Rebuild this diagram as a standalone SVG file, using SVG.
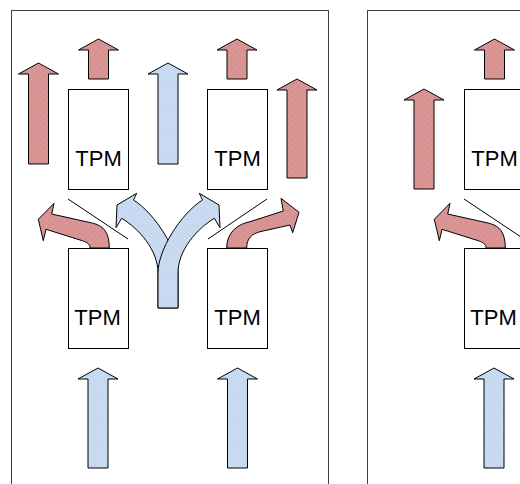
<svg xmlns="http://www.w3.org/2000/svg" width="520" height="484" viewBox="0 0 520 484">
<defs>
<pattern id="pr" width="6" height="6" patternUnits="userSpaceOnUse"><rect width="6" height="6" fill="#d99292"/><circle cx="1.5" cy="1.5" r="0.6" fill="#e2a8a8"/><circle cx="4.5" cy="4.5" r="0.6" fill="#e2a8a8"/></pattern>
<pattern id="pb" width="6" height="6" patternUnits="userSpaceOnUse"><rect width="6" height="6" fill="#c6d9f0"/><circle cx="1.5" cy="1.5" r="0.6" fill="#d6e4f5"/><circle cx="4.5" cy="4.5" r="0.6" fill="#d6e4f5"/></pattern>
</defs>
<style>
.frame{fill:#fff;stroke:#404040;stroke-width:1}
.box{fill:#fff;stroke:#000;stroke-width:1}
.lbl{font-family:"Liberation Sans",Arial,sans-serif;font-size:22px;fill:#000;text-anchor:middle}
.red{fill:url(#pr);stroke:#000;stroke-width:1;stroke-linejoin:miter}
.blue{fill:url(#pb);stroke:#000;stroke-width:1;stroke-linejoin:miter}
.ln{stroke:#000;stroke-width:1;fill:none}
</style>
<rect width="520" height="484" fill="#fff"/>
<g id="panel-left"><rect class="frame" x="11.5" y="10.5" width="317" height="490"/></g>
<g id="panel-right"><rect class="frame" x="367.5" y="10.5" width="170" height="490"/></g>
<g id="connectors">
<polygon class="red" points="28.5,164 28.5,74 18.5,74 38.5,63 58.5,74 48.5,74 48.5,164"/>
<polygon class="red" points="88.5,79 88.5,50 78.5,50 98.5,39 118.5,50 108.5,50 108.5,79"/>
<polygon class="blue" points="158,164 158,74 148,74 168,63 188,74 178,74 178,164"/>
<polygon class="red" points="227,79 227,50 217,50 237,39 257,50 247,50 247,79"/>
<polygon class="red" points="287,178 287,90 277,90 297,79 317,90 307,90 307,178"/>
<polygon class="blue" points="88,468 88,379 78,379 98,368 118,379 108,379 108,468"/>
<polygon class="blue" points="227.5,468 227.5,379 217.5,379 237.5,368 257.5,379 247.5,379 247.5,468"/>
<polygon class="red" points="484.5,79 484.5,50 474.5,50 494.5,39 514.5,50 504.5,50 504.5,79"/>
<polygon class="red" points="414,189 414,100 404,100 424,89 444,100 434,100 434,189"/>
<polygon class="blue" points="484,468 484,379 474,379 494,368 514,379 504,379 504,468"/>
<line class="ln" x1="68" y1="199" x2="128" y2="239"/>
<line class="ln" x1="208" y1="239" x2="267" y2="199"/>
<line class="ln" x1="464" y1="199" x2="524" y2="239"/>
<path class="blue" d="M158,308 L158,273 C158,250 138.8,228.6 121.7,218.3 L116,227.7 L117,205 L136.7,193.3 L133.5,200 C155.4,213.9 178,250 178,273 L178,308 Z"/>
<path class="blue" d="M178,308 L178,273 C178,250 197.2,228.6 214.3,218.3 L220,227.7 L219,205 L199.3,193.3 L202.5,200 C180.6,213.9 158,250 158,273 L158,308 Z"/>
</g>
<g id="tpm1"><rect class="box" x="68.5" y="89.5" width="60" height="100"/><text class="lbl" x="98.5" y="166">TPM</text></g>
<g id="tpm2"><rect class="box" x="207.5" y="89.5" width="60" height="100"/><text class="lbl" x="237.5" y="166">TPM</text></g>
<g id="tpm3"><rect class="box" x="68.5" y="248.5" width="60" height="100"/><text class="lbl" x="97.5" y="325">TPM</text></g>
<g id="tpm4"><rect class="box" x="207.5" y="248.5" width="60" height="100"/><text class="lbl" x="237.5" y="325">TPM</text></g>
<g id="tpm5"><rect class="box" x="464.5" y="89.5" width="60" height="100"/><text class="lbl" x="494.5" y="166">TPM</text></g>
<g id="tpm6"><rect class="box" x="464.5" y="248.5" width="60" height="100"/><text class="lbl" x="493.5" y="325">TPM</text></g>
<g id="curved">
<path class="red" d="M90,248 C90,244 87,242 80,240 L46,229.3 L43.3,240.7 L38.3,219.3 L54,203.3 L51.7,214 L93.3,223.3 C104,226 109.3,233 109.3,248 Z"/>
<path class="red" d="M226.7,248 C226.7,232 238,224 250,221.7 L283.3,211 L281,198.3 L299,212.3 L292.7,232.7 L290,225 L260,231.7 C252,234 246.7,238 246.7,248 Z"/>
<path class="red" d="M486,248 C486,244 483,242 476,240 L442,229.3 L439.3,240.7 L434.3,219.3 L450,203.3 L447.7,214 L489.3,223.3 C500,226 505.3,233 505.3,248 Z"/>
</g>
</svg>
